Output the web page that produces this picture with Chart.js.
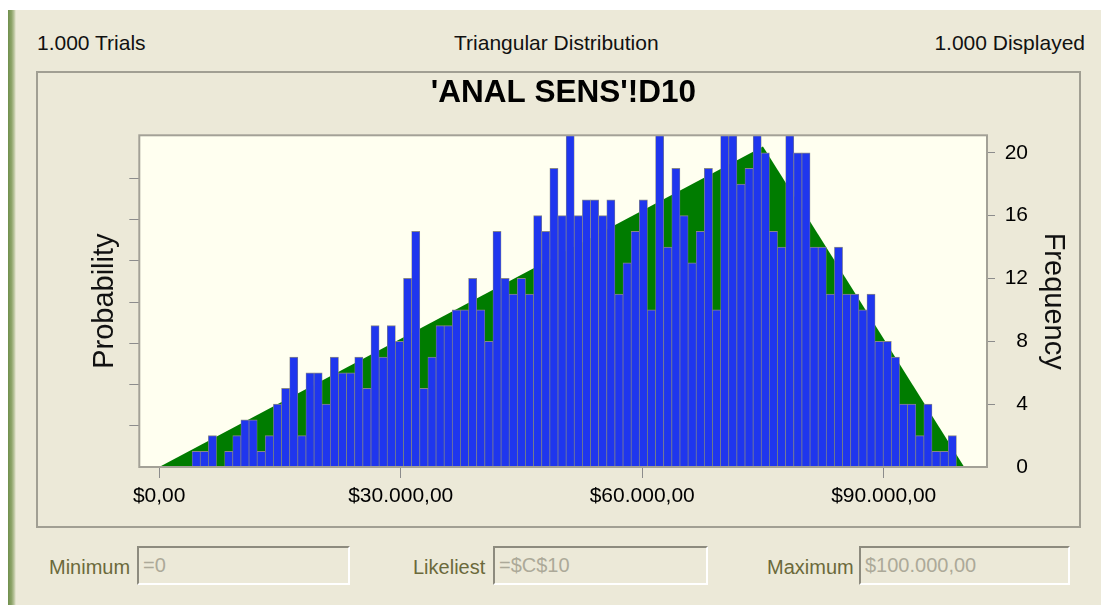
<!DOCTYPE html>
<html>
<head>
<meta charset="utf-8">
<script src="https://cdn.jsdelivr.net/npm/chart.js@4"></script>
<style>
html,body{margin:0;padding:0;background:#ffffff;}
body{width:1101px;height:605px;position:relative;overflow:hidden;font-family:"Liberation Sans",Arial,sans-serif;}
#win{position:absolute;left:8px;top:10px;right:0;bottom:0;background:#ECE9D8;}
#edge{position:absolute;left:8px;top:10px;width:8px;bottom:0;background:linear-gradient(to right,#6f8f4c 0%,#8ea46a 45%,#b9c49c 75%,#ECE9D8 100%);}
.t{position:absolute;font-size:21px;line-height:21px;color:#111;white-space:nowrap;}
#panel{position:absolute;left:36px;top:71px;width:1041px;height:453px;border:2px solid #a19f93;}
#c{position:absolute;left:38px;top:73px;}
.lab{position:absolute;top:557px;font-size:20px;line-height:20px;color:#6b693b;white-space:nowrap;}
.box{position:absolute;top:546px;height:39px;box-sizing:border-box;border-top:2px solid #8d8b7e;border-left:2px solid #8d8b7e;border-bottom:2px solid #ffffff;border-right:2px solid #ffffff;color:#aca999;font-size:20px;line-height:35px;padding-left:4px;white-space:nowrap;overflow:hidden;}
</style>
</head>
<body>
<div id="win"></div>
<div id="edge"></div>
<div class="t" style="left:37px;top:32px;">1.000 Trials</div>
<div class="t" style="left:454px;top:32px;">Triangular Distribution</div>
<div class="t" style="right:16px;top:32px;">1.000 Displayed</div>
<div id="panel"></div>
<canvas id="c" width="1041" height="453"></canvas>
<div class="lab" style="left:49px;">Minimum</div>
<div class="box" style="left:137px;width:213px;">=0</div>
<div class="lab" style="left:413px;">Likeliest</div>
<div class="box" style="left:493px;width:215px;">=$C$10</div>
<div class="lab" style="left:767px;">Maximum</div>
<div class="box" style="left:859px;width:211px;">$100.000,00</div>
<script>
// ---- data ----
const binStart = 50;      // lower edge ($) of the first histogram bin
const binWidth = 1010;    // width ($) of each bin
const counts = [
  0,0,0,0,1,1,2,0,1,2,
  3,3,1,2,4,5,7,2,6,6,
  4,7,6,6,7,5,9,7,9,8,
  12,15,5,7,9,9,10,10,12,10,
  8,15,12,11,12,11,16,15,19,16,
  22,16,17,17,16,17,11,13,15,17,
  10,22,14,19,16,13,15,19,10,23,
  22,18,19,23,20,15,14,22,20,20,
  14,14,11,14,11,11,10,11,8,8,
  7,4,4,2,4,1,1,2
];
const triX = [0, 75000, 100000];   // min, likeliest, max
const triY = [0, 20.4, 0];         // expected frequency per bin
const xTicks = [0, 30000, 60000, 90000];
const xTickLabels = ['$0,00', '$30.000,00', '$60.000,00', '$90.000,00'];
const freqTicks = [0, 4, 8, 12, 16, 20];
const probTicks = [1, 2, 3, 4, 5, 6, 7];

const FONT = "'Liberation Sans', Arial, sans-serif";
Chart.defaults.font.family = FONT;

const barData = counts
  .map((c, i) => ({x: binStart + (i + 0.5) * binWidth, y: c}))
  .filter(p => p.y > 0);
const triData = triX.map((x, i) => ({x: x, y: triY[i]}));

const plotFrame = {
  id: 'plotFrame',
  beforeDraw(chart) {
    const {ctx, chartArea: a} = chart;
    ctx.save();
    ctx.fillStyle = '#FFFFF0';
    ctx.fillRect(a.left, a.top, a.right - a.left, a.bottom - a.top);
    ctx.restore();
  },
  afterDatasetsDraw(chart) {
    const {ctx, chartArea: a} = chart;
    ctx.save();
    ctx.strokeStyle = '#a3a197';
    ctx.lineWidth = 2;
    ctx.strokeRect(a.left, a.top, a.right - a.left, a.bottom - a.top);
    ctx.restore();
  }
};

const tickGray = '#8c8c8c';

new Chart(document.getElementById('c'), {
  type: 'bar',
  data: {
    datasets: [
      {
        type: 'bar',
        data: barData,
        backgroundColor: '#1f36ee',
        borderColor: '#878787',
        borderWidth: {top: 1, left: 0.7, right: 0.7, bottom: 0},
        barPercentage: 1,
        categoryPercentage: 1,
        xAxisID: 'x',
        yAxisID: 'y',
        order: 1
      },
      {
        type: 'line',
        data: triData,
        fill: 'origin',
        backgroundColor: '#007c00',
        borderColor: '#007c00',
        borderWidth: 0,
        pointRadius: 0,
        tension: 0,
        xAxisID: 'x',
        yAxisID: 'y',
        order: 2
      }
    ]
  },
  options: {
    responsive: false,
    animation: false,
    devicePixelRatio: 1,
    layout: {padding: {left: 61, top: 0, bottom: 0, right: 51}},
    plugins: {
      legend: {display: false},
      tooltip: {enabled: false},
      title: {
        display: true,
        text: "'ANAL SENS'!D10",
        color: '#000',
        font: {size: 31.5, weight: 'bold', family: FONT},
        padding: {top: 1.5, bottom: 23}
      }
    },
    scales: {
      x: {
        type: 'linear',
        position: 'bottom',
        min: -2472,
        max: 102830,
        offset: false,
        afterBuildTicks: s => { s.ticks = xTicks.map(v => ({value: v})); },
        afterFit: s => { s.height = 59; },
        ticks: {
          autoSkip: false,
          maxRotation: 0,
          color: '#000',
          font: {size: 21},
          padding: 6,
          callback: v => xTickLabels[xTicks.indexOf(v)]
        },
        grid: {drawOnChartArea: false, drawTicks: true, tickLength: 11, color: tickGray, offset: false},
        border: {display: false}
      },
      yL: {
        type: 'linear',
        position: 'left',
        min: 0,
        max: 8.05,
        afterBuildTicks: s => { s.ticks = probTicks.map(v => ({value: v})); },
        afterFit: s => { s.width = 40.3; },
        ticks: {callback: () => '', padding: 0},
        grid: {drawOnChartArea: false, drawTicks: true, tickLength: 10, color: tickGray},
        border: {display: false},
        title: {display: true, text: 'Probability', color: '#111', font: {size: 29}, padding: {top: -11.4, bottom: 0}}
      },
      y: {
        type: 'linear',
        position: 'right',
        min: 0,
        max: 21.11,
        afterBuildTicks: s => { s.ticks = freqTicks.map(v => ({value: v})); },
        afterFit: s => { s.width = 41; },
        ticks: {color: '#000', font: {size: 21}, padding: 9.6, crossAlign: 'far'},
        grid: {
          drawOnChartArea: false, drawTicks: true, tickLength: 8,
          color: ctx => (ctx.tick && ctx.tick.value === 0) ? 'rgba(0,0,0,0)' : tickGray
        },
        border: {display: false},
        title: {display: true, text: 'Frequency', color: '#111', font: {size: 29}, padding: {top: -42.4, bottom: 0}}
      }
    }
  },
  plugins: [plotFrame]
});
</script>
</body>
</html>
